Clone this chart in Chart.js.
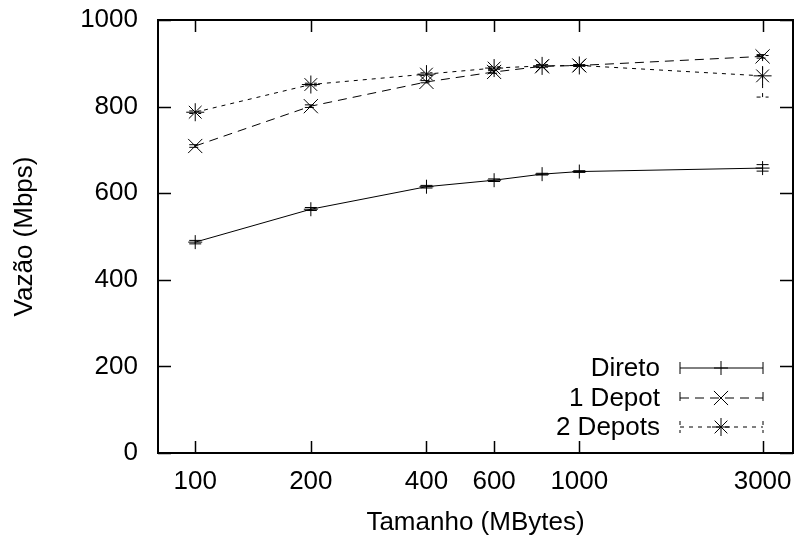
<!DOCTYPE html>
<html>
<head>
<meta charset="utf-8">
<script src="https://cdn.jsdelivr.net/npm/chart.js@4/dist/chart.umd.min.js"></script>
<style>html,body{margin:0;padding:0;background:#fff}</style>
</head>
<body>
<canvas id="chart" width="804" height="545"></canvas>
<script>
// Data
const sizes = [100, 200, 400, 600, 800, 1000, 3000];
const xTicks = [100, 200, 400, 600, 1000, 3000];
const yTicks = [0, 200, 400, 600, 800, 1000];

const direto = [487, 563, 615, 630, 644, 650, 658];
const diretoLow = [483, 560, 612, 627, 642, 648, 651];
const diretoHigh = [491, 567, 618, 633, 646, 652, 666];

const depot1 = [709, 801, 857, 880, 893, 895, 916];
const depot1Low = [706, 798, 855, 877, 890, 893, 912];
const depot1High = [712, 804, 860, 883, 896, 897, 920];

const depot2 = [787, 851, 875, 889, 894, 895, 871];
const depot2Low = [784, 848, 872, 886, 891, 893, 822];
const depot2High = [790, 854, 878, 892, 897, 897, 918];

const FONT = 'Liberation Sans, Arial, sans-serif';

const series = [
    { label: 'Direto', data: direto, low: diretoLow, high: diretoHigh, dash: [], style: 'cross', r: 7 },
    { label: '1 Depot', data: depot1, low: depot1Low, high: depot1High, dash: [9, 6], style: 'crossRot', r: 10 },
    { label: '2 Depots', data: depot2, low: depot2Low, high: depot2High, dash: [4, 5], style: 'star', r: 9 }
];

function drawMarker(ctx, style, x, y, r) {
    ctx.beginPath();
    if (style === 'cross' || style === 'star') {
        ctx.moveTo(x, y - r); ctx.lineTo(x, y + r);
        ctx.moveTo(x - r, y); ctx.lineTo(x + r, y);
    }
    if (style === 'crossRot' || style === 'star') {
        const o = Math.cos(Math.PI / 4) * r;
        ctx.moveTo(x - o, y - o); ctx.lineTo(x + o, y + o);
        ctx.moveTo(x - o, y + o); ctx.lineTo(x + o, y - o);
    }
    ctx.stroke();
}

// error bars, frame with inside ticks, and the gnuplot-like key
const gnuplotLook = {
    id: 'gnuplotLook',
    afterDatasetsDraw(chart) {
        const ctx = chart.ctx;
        const xs = chart.scales.x, ys = chart.scales.y;
        const a = chart.chartArea;
        ctx.save();
        ctx.strokeStyle = '#000';
        ctx.lineWidth = 1;

        // error bars
        series.forEach(s => {
            ctx.setLineDash(s.dash);
            sizes.forEach((v, i) => {
                const px = xs.getPixelForValue(v);
                const lo = ys.getPixelForValue(s.low[i]);
                const hi = ys.getPixelForValue(s.high[i]);
                ctx.beginPath();
                ctx.moveTo(px, lo); ctx.lineTo(px, hi);
                ctx.moveTo(px - 6, lo); ctx.lineTo(px + 6, lo);
                ctx.moveTo(px - 6, hi); ctx.lineTo(px + 6, hi);
                ctx.stroke();
            });
        });
        ctx.setLineDash([]);

        // ticks inside, mirrored
        ctx.lineWidth = 1.5;
        ctx.beginPath();
        xTicks.forEach(v => {
            const px = Math.round(xs.getPixelForValue(v)) + 0.5;
            ctx.moveTo(px, a.bottom); ctx.lineTo(px, a.bottom - 12);
            ctx.moveTo(px, a.top); ctx.lineTo(px, a.top + 12);
        });
        yTicks.forEach(v => {
            const py = Math.round(ys.getPixelForValue(v)) + 0.5;
            ctx.moveTo(a.left, py); ctx.lineTo(a.left + 13, py);
            ctx.moveTo(a.right, py); ctx.lineTo(a.right - 13, py);
        });
        ctx.stroke();

        // frame
        ctx.lineWidth = 2;
        ctx.strokeRect(a.left, a.top, a.right - a.left, a.bottom - a.top);

        // key
        ctx.font = '26px ' + FONT;
        ctx.fillStyle = '#000';
        ctx.textAlign = 'right';
        ctx.textBaseline = 'middle';
        const rowY = [368, 398, 427];
        const x0 = 680, x1 = 763, xm = 721;
        series.forEach((s, i) => {
            const y = rowY[i];
            ctx.fillText(s.label, 660, y + 1);
            ctx.lineWidth = 1;
            ctx.setLineDash(s.dash);
            ctx.beginPath();
            ctx.moveTo(x0, y); ctx.lineTo(x1, y);
            ctx.moveTo(x0, y - 6); ctx.lineTo(x0, y + 6);
            ctx.moveTo(x1, y - 6); ctx.lineTo(x1, y + 6);
            ctx.stroke();
            ctx.setLineDash([]);
            drawMarker(ctx, s.style, xm, y, s.r);
        });
        ctx.restore();
    }
};

const ctx = document.getElementById('chart').getContext('2d');
const chart = new Chart(ctx, {
    type: 'line',
    data: {
        datasets: series.map(s => ({
            label: s.label,
            data: sizes.map((v, i) => ({ x: v, y: s.data[i] })),
            borderColor: '#000',
            borderWidth: 1,
            borderDash: s.dash,
            fill: false,
            tension: 0,
            pointStyle: s.style,
            pointRadius: s.r,
            pointHoverRadius: s.r,
            pointBorderColor: '#000',
            pointBorderWidth: 1,
            backgroundColor: '#000'
        }))
    },
    plugins: [gnuplotLook],
    options: {
        responsive: false,
        animation: false,
        events: [],
        layout: { padding: { top: 20, right: 7, left: 0, bottom: 0 } },
        plugins: {
            legend: { display: false },
            tooltip: { enabled: false }
        },
        scales: {
            x: {
                type: 'logarithmic',
                min: 80,
                max: 3600,
                afterBuildTicks: scale => { scale.ticks = xTicks.map(v => ({ value: v })); },
                afterFit: scale => {
                    scale.height = 92;
                    scale.paddingLeft = 0;
                    scale.paddingRight = 0;
                },
                grid: { display: false, drawTicks: false },
                border: { display: false },
                ticks: {
                    autoSkip: false,
                    maxRotation: 0,
                    padding: 13,
                    color: '#000',
                    font: { family: FONT, size: 26 },
                    callback: v => String(v)
                },
                title: {
                    display: true,
                    text: 'Tamanho (MBytes)',
                    color: '#000',
                    font: { family: FONT, size: 26 },
                    padding: { top: 0, bottom: 7 }
                }
            },
            y: {
                min: 0,
                max: 1000,
                afterBuildTicks: scale => { scale.ticks = yTicks.map(v => ({ value: v })); },
                afterFit: scale => {
                    scale.width = 158;
                    scale.paddingTop = 0;
                    scale.paddingBottom = 0;
                },
                grid: { display: false, drawTicks: false },
                border: { display: false },
                ticks: {
                    padding: 20,
                    color: '#000',
                    font: { family: FONT, size: 26 },
                    callback: v => String(v)
                },
                title: {
                    display: true,
                    text: 'Vazão (Mbps)',
                    color: '#000',
                    font: { family: FONT, size: 26 },
                    padding: { top: 9, bottom: 0 }
                }
            }
        }
    }
});
</script>
</body>
</html>
